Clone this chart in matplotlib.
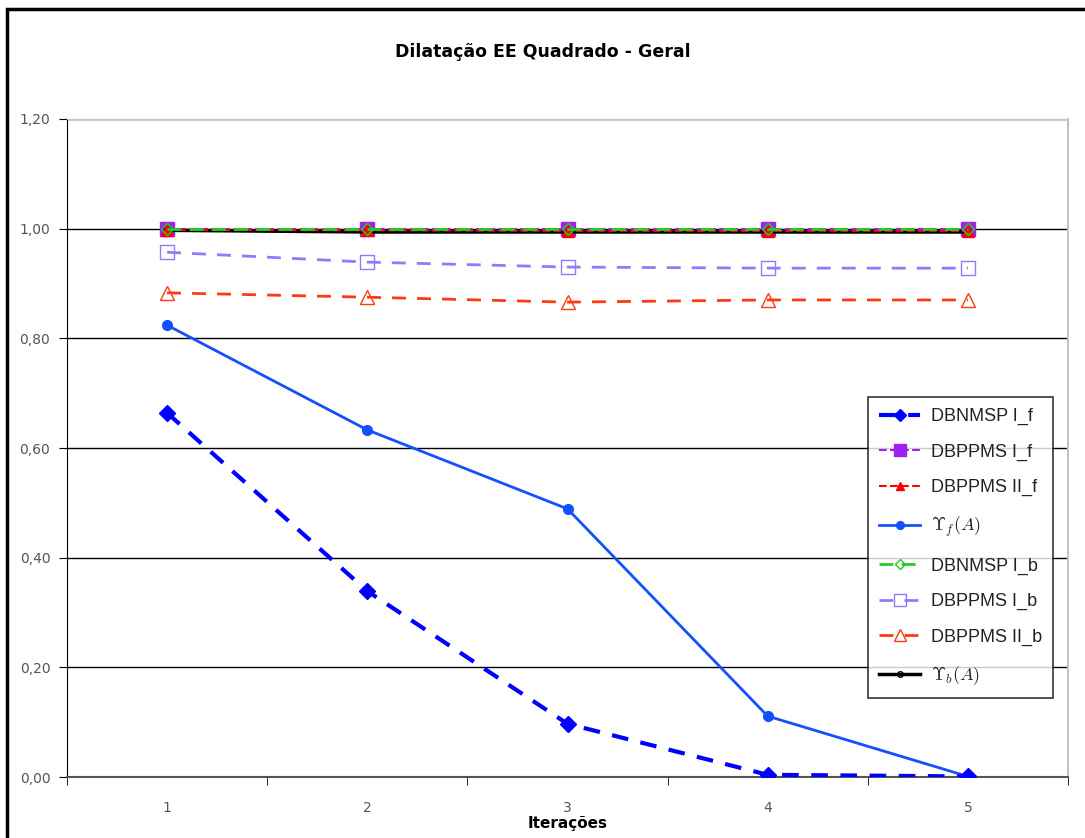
import numpy as np
import matplotlib.pyplot as plt
from matplotlib.patches import Rectangle

plt.rcParams["mathtext.fontset"] = "cm"

iteracoes = [1, 2, 3, 4, 5]
dbnmsp_i_f = [0.664, 0.339, 0.097, 0.004, 0.001]
dbppms_i_f = [1.000, 1.000, 1.000, 1.000, 1.000]
dbppms_ii_f = [0.998, 0.997, 0.996, 0.996, 0.996]
ups_f = [0.824, 0.633, 0.489, 0.111, 0.001]
dbnmsp_i_b = [1.000, 1.000, 1.000, 1.000, 1.000]
dbppms_i_b = [0.957, 0.939, 0.930, 0.928, 0.928]
dbppms_ii_b = [0.883, 0.875, 0.866, 0.870, 0.870]
ups_b = [0.997, 0.994, 0.994, 0.994, 0.994]

yticks = [0.0, 0.2, 0.4, 0.6, 0.8, 1.0, 1.2]
ylabels = ["0,00", "0,20", "0,40", "0,60", "0,80", "1,00", "1,20"]

fig = plt.figure(figsize=(10.85, 8.38), dpi=100)
ax = fig.add_axes([67/1085, 61/838, 1001/1085, 658/838])

# outer chart border
fig.patches.append(Rectangle((7/1085, -0.01), 1.1, (838-9)/838 + 0.01,
                             transform=fig.transFigure, fill=False,
                             edgecolor="black", lw=2.5))

for y in yticks[1:]:
    ax.axhline(y, color="black", lw=1.0, zorder=0)

ax.plot(iteracoes, ups_b, "-", color="black", lw=2.5, marker="o", ms=5,
        mfc="none", mec="black", label=r"$\Upsilon_b(A)$", zorder=3)
ax.plot(iteracoes, dbnmsp_i_b, "--", color="#22cc22", lw=2, marker="D", ms=6,
        mfc="none", mec="#22cc22", dashes=(5, 3), label="DBNMSP I_b", zorder=5)
ax.plot(iteracoes, dbppms_i_b, "--", color="#8c7cff", lw=2, marker="s", ms=10,
        mfc="none", mec="#8c7cff", dashes=(5, 4), label="DBPPMS I_b", zorder=3)
ax.plot(iteracoes, dbppms_ii_b, "--", color="#ff3a10", lw=2, marker="^", ms=10,
        mfc="none", mec="#ff3a10", dashes=(5, 4), label="DBPPMS II_b", zorder=3)
ax.plot(iteracoes, dbppms_i_f, "--", color="#a020f0", lw=1.5, marker="s", ms=10,
        label="DBPPMS I_f", zorder=2)
ax.plot(iteracoes, dbppms_ii_f, "--", color="red", lw=1.5, marker="^", ms=8,
        label="DBPPMS II_f", zorder=4)
ax.plot(iteracoes, ups_f, "-", color="#1450ff", lw=2, marker="o", ms=7,
        label=r"$\Upsilon_f(A)$", zorder=3)
ax.plot(iteracoes, dbnmsp_i_f, "--", color="#0000ff", lw=3, marker="D", ms=8,
        dashes=(4, 3), label="DBNMSP I_f", zorder=3)

ax.set_xlim(0.5, 5.5)
ax.set_ylim(0, 1.2)
ax.set_yticks(yticks)
ax.set_yticklabels(ylabels, fontsize=10, color="#555555")
ax.set_xticks(iteracoes)
ax.set_xticklabels([str(i) for i in iteracoes], fontsize=10, color="#555555")
ax.set_xticks(np.arange(0.5, 6, 1), minor=True)
ax.tick_params(axis="x", which="major", length=0, pad=17)
ax.tick_params(axis="x", which="minor", length=6, direction="out")
ax.tick_params(axis="y", length=6, direction="out", pad=6)

ax.spines["left"].set_color("black")
ax.spines["bottom"].set_color("#555555")
ax.spines["bottom"].set_linewidth(1.5)
ax.spines["top"].set_color("#b8c8c8")
ax.spines["right"].set_color("#b8c8c8")
ax.spines["right"].set_linewidth(1.5)

ax.set_xlabel("Iterações", fontsize=11, fontweight="bold", labelpad=1)
fig.text(0.5, 1 - 52/838, "Dilatação EE Quadrado - Geral", ha="center",
         va="center", fontsize=12.5, fontweight="bold")

handles, labels = ax.get_legend_handles_labels()
order = ["DBNMSP I_f", "DBPPMS I_f", "DBPPMS II_f", r"$\Upsilon_f(A)$",
         "DBNMSP I_b", "DBPPMS I_b", "DBPPMS II_b", r"$\Upsilon_b(A)$"]
hmap = dict(zip(labels, handles))
leg = ax.legend([hmap[k] for k in order], order, loc="upper left",
                bbox_to_anchor=((868-67)/1001, (777-397)/658),
                borderaxespad=0, frameon=True, fancybox=False,
                edgecolor="black",
                prop={"family": "Liberation Sans", "size": 13},
                labelspacing=1.02, handlelength=2.3, borderpad=0.6,
                handletextpad=0.6, markerscale=0.8)
leg.get_frame().set_linewidth(1.2)
for t in leg.get_texts():
    t.set_color("#222222")

plt.savefig("out.png", dpi=100, facecolor="white")
